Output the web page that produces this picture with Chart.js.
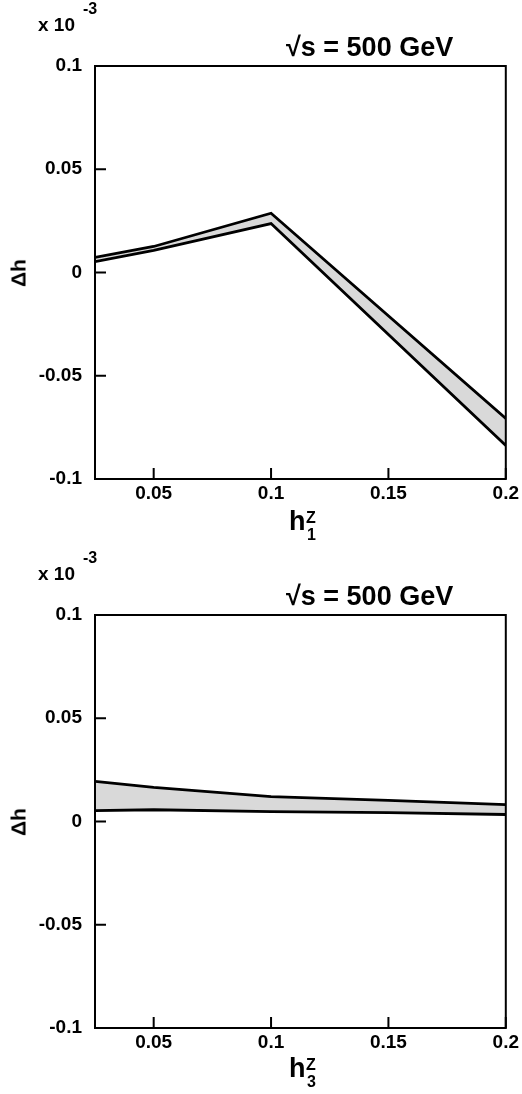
<!DOCTYPE html>
<html><head><meta charset="utf-8">
<script src="https://cdn.jsdelivr.net/npm/chart.js@4/dist/chart.umd.min.js"></script>
<style>
html,body{margin:0;padding:0;background:#fff;}
body{width:522px;height:1094px;position:relative;overflow:hidden;font-family:"Liberation Sans",Arial,sans-serif;font-weight:bold;color:#000;}
.panel{position:absolute;left:0;width:522px;height:547px;}
.panel canvas{position:absolute;left:0;top:0;width:522px;height:547px;}
.t{position:absolute;white-space:nowrap;line-height:1;font-weight:bold;}
.rot{transform:translate(-50%,-50%) rotate(-90deg);}
</style></head>
<body>
<div class="panel" style="top:0">
  <canvas id="c1" width="522" height="547"></canvas>
  <div class="t" style="left:38px;top:15px;font-size:19px">x 10</div>
  <div class="t" style="left:83px;top:1px;font-size:16px">-3</div>
  <div class="t" style="left:286px;top:34px;font-size:27px">√s = 500 GeV</div>
  <div class="t rot" style="left:18px;top:273px;font-size:21px">Δh</div>
  <div class="t" style="left:289px;top:508px;font-size:27px">h</div>
  <div class="t" style="left:307px;top:527px;font-size:16px">1</div>
  <div class="t" style="left:306px;top:510px;font-size:16px">Z</div>
</div>
<div class="panel" style="top:549px">
  <canvas id="c2" width="522" height="547"></canvas>
  <div class="t" style="left:38px;top:15px;font-size:19px">x 10</div>
  <div class="t" style="left:83px;top:1px;font-size:16px">-3</div>
  <div class="t" style="left:286px;top:34px;font-size:27px">√s = 500 GeV</div>
  <div class="t rot" style="left:18px;top:273px;font-size:21px">Δh</div>
  <div class="t" style="left:289px;top:506px;font-size:27px">h</div>
  <div class="t" style="left:307px;top:525px;font-size:16px">3</div>
  <div class="t" style="left:306px;top:508px;font-size:16px">Z</div>
</div>
<script>
// ---- data (values in units of 10^-3) ----
const xTickValues = [0.05, 0.1, 0.15, 0.2];
const yTickValues = [-0.1, -0.05, 0, 0.05, 0.1];

// panel 1: Δh vs h1Z
const h1Values = [0.025, 0.05, 0.1, 0.2];
const h1Upper  = [0.0073, 0.0126, 0.0287, -0.0707];
const h1Lower  = [0.0053, 0.0107, 0.0237, -0.0838];

// panel 2: Δh vs h3Z
const h3Values = [0.025, 0.05, 0.1, 0.15, 0.2];
const h3Upper  = [0.0194, 0.0165, 0.0120, 0.0102, 0.0082];
const h3Lower  = [0.0053, 0.0057, 0.0048, 0.0043, 0.0034];

const toPts = (xs, ys) => xs.map((x, i) => ({x: x, y: ys[i]}));
const fmt = v => String(+(+v).toFixed(3));

const framePlugin = {
  id: 'frame',
  afterDatasetsDraw(chart) {
    const {ctx, chartArea: a, scales: {x, y}} = chart;
    ctx.save();
    ctx.strokeStyle = '#000';
    ctx.lineWidth = 2;
    ctx.strokeRect(a.left, a.top, a.right - a.left, a.bottom - a.top);
    ctx.beginPath();
    x.ticks.forEach(t => { const px = x.getPixelForValue(t.value); ctx.moveTo(px, a.bottom); ctx.lineTo(px, a.bottom - 11); });
    y.ticks.forEach(t => { const py = y.getPixelForValue(t.value); ctx.moveTo(a.left, py); ctx.lineTo(a.left + 11, py); });
    ctx.stroke();
    ctx.restore();
  }
};

function makeChart(id, xs, up, lo) {
  return new Chart(document.getElementById(id), {
    type: 'line',
    data: {
      datasets: [
        {data: toPts(xs, up), borderColor: '#000', borderWidth: 2.8, backgroundColor: '#d9d9d9',
         fill: '+1', pointRadius: 0, tension: 0},
        {data: toPts(xs, lo), borderColor: '#000', borderWidth: 2.8, fill: false, pointRadius: 0, tension: 0}
      ]
    },
    options: {
      responsive: false,
      animation: false,
      events: [],
      layout: {padding: {top: 66, right: 13, left: 0, bottom: 0}},
      plugins: {legend: {display: false}, tooltip: {enabled: false}, filler: {drawTime: 'beforeDatasetsDraw'}},
      scales: {
        x: {
          type: 'linear', min: 0.025, max: 0.2,
          grid: {display: false, drawTicks: false},
          border: {display: false},
          afterBuildTicks: s => { s.ticks = xTickValues.map(v => ({value: v})); },
          afterFit: s => { s.height = 68; },
          ticks: {color: '#000', padding: 3, maxRotation: 0, font: {family: 'Liberation Sans', size: 19, weight: 'bold'}, callback: v => fmt(v)}
        },
        y: {
          type: 'linear', min: -0.1, max: 0.1,
          grid: {display: false, drawTicks: false},
          border: {display: false},
          afterBuildTicks: s => { s.ticks = yTickValues.map(v => ({value: v})); },
          afterFit: s => { s.width = 95; },
          ticks: {color: '#000', padding: 13, font: {family: 'Liberation Sans', size: 19, weight: 'bold'}, callback: v => fmt(v)}
        }
      }
    },
    plugins: [framePlugin]
  });
}

makeChart('c1', h1Values, h1Upper, h1Lower);
makeChart('c2', h3Values, h3Upper, h3Lower);
</script>
</body></html>
